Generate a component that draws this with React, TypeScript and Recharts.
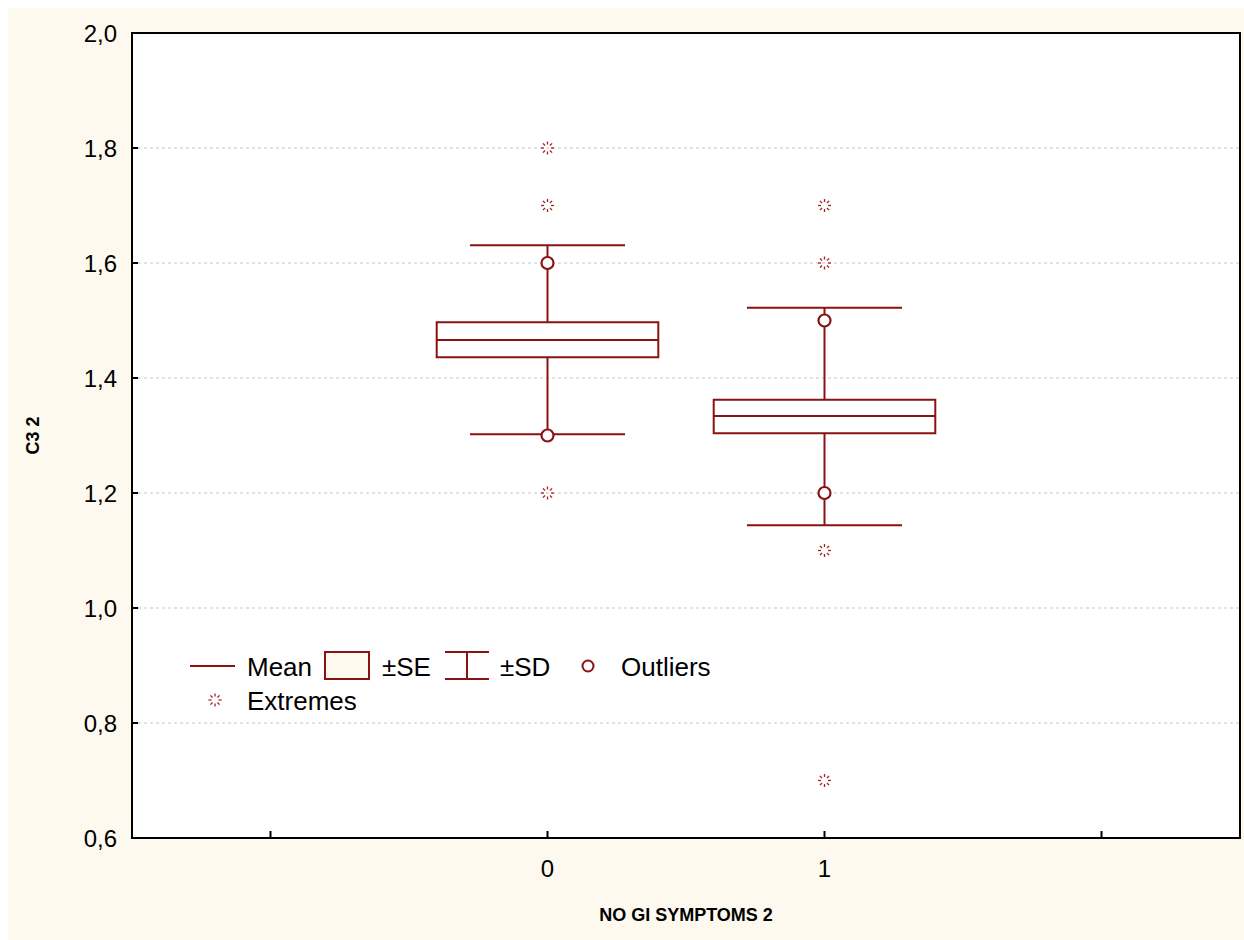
import {
  ScatterChart,
  Scatter,
  XAxis,
  YAxis,
  CartesianGrid,
  ReferenceArea,
  ReferenceLine,
  Label,
} from "recharts";

const RED = "#8b1212";
const CREAM = "#fef9ef";
const FONT = "'Liberation Sans', Arial, sans-serif";

// groups on the x axis (NO GI SYMPTOMS 2)
const groups = [0, 1];
const means = [1.466, 1.334];
const seLow = [1.436, 1.304];
const seHigh = [1.497, 1.362];
const sdLow = [1.302, 1.144];
const sdHigh = [1.631, 1.522];
const outliers = [
  [1.6, 1.3],
  [1.5, 1.2],
];
const extremes = [
  [1.8, 1.7, 1.2],
  [1.7, 1.6, 1.1, 0.7],
];

const xTicks = [-1, 0, 1, 2];
const xLabels = ["", "0", "1", ""];
const yTicks = [0.6, 0.8, 1.0, 1.2, 1.4, 1.6, 1.8, 2.0];

const BOX_HALF = 0.4;
const CAP_HALF = 0.28;

const outlierData = groups.flatMap((g, i) => outliers[i].map((y) => ({ x: g, y })));
const extremeData = groups.flatMap((g, i) => extremes[i].map((y) => ({ x: g, y })));

const fmt = (v: number) => v.toFixed(1).replace(".", ",");

function YTick({ x, y, payload }: any) {
  return (
    <g>
      <line x1={x} x2={x + 6} y1={y} y2={y} stroke="#000" strokeWidth={2} />
      <text
        x={x - 15}
        y={y}
        textAnchor="end"
        dominantBaseline="central"
        fontSize={24}
        fontFamily={FONT}
        fill="#000"
      >
        {fmt(payload.value)}
      </text>
    </g>
  );
}

function XTick({ x, y, payload }: any) {
  const idx = xTicks.indexOf(payload.value);
  return (
    <g>
      <line x1={x} x2={x} y1={y} y2={y - 7} stroke="#000" strokeWidth={2} />
      <text
        x={x}
        y={y + 30}
        textAnchor="middle"
        dominantBaseline="central"
        fontSize={24}
        fontFamily={FONT}
        fill="#000"
      >
        {idx >= 0 ? xLabels[idx] : ""}
      </text>
    </g>
  );
}

function OutlierDot({ cx, cy }: any) {
  if (cx == null || cy == null) return null;
  return <circle cx={cx} cy={cy} r={6} fill="#fff" stroke={RED} strokeWidth={2.2} />;
}

function Burst({ cx, cy }: any) {
  if (cx == null || cy == null) return null;
  const rays = [0, 45, 90, 135, 180, 225, 270, 315];
  return (
    <g>
      {rays.map((a) => {
        const r = (a * Math.PI) / 180;
        return (
          <line
            key={a}
            x1={cx + Math.cos(r) * 3.5}
            y1={cy + Math.sin(r) * 3.5}
            x2={cx + Math.cos(r) * 6.5}
            y2={cy + Math.sin(r) * 6.5}
            stroke="#a82020"
            strokeWidth={1.3}
          />
        );
      })}
    </g>
  );
}

function LegendBox() {
  const t = { fontSize: 26, fontFamily: FONT, fill: "#000", dominantBaseline: "central" as const };
  return (
    <svg
      width={580}
      height={80}
      style={{ position: "absolute", left: 170, top: 630, pointerEvents: "none" }}
    >
      <g transform="translate(-170,-630)">
        <line x1={182} x2={227} y1={658} y2={658} stroke={RED} strokeWidth={2} />
        <text x={239} y={659} {...t}>Mean</text>
        <rect x={317} y={644} width={44} height={27} fill={CREAM} stroke={RED} strokeWidth={2} />
        <text x={374} y={659} {...t}>±SE</text>
        <line x1={437} x2={481} y1={644} y2={644} stroke={RED} strokeWidth={2} />
        <line x1={437} x2={481} y1={671} y2={671} stroke={RED} strokeWidth={2} />
        <line x1={459} x2={459} y1={644} y2={671} stroke={RED} strokeWidth={2} />
        <text x={492} y={659} {...t}>±SD</text>
        <circle cx={580} cy={658} r={5.5} fill="#fff" stroke={RED} strokeWidth={2} />
        <text x={613} y={659} {...t}>Outliers</text>
        <Burst cx={207} cy={692} />
        <text x={239} y={693} {...t}>Extremes</text>
      </g>
    </svg>
  );
}

export default function App() {
  return (
    <div
      style={{
        position: "fixed",
        left: 8,
        top: 8,
        width: 1236,
        height: 932,
        background: CREAM,
        fontFamily: FONT,
      }}
    >
      <ScatterChart width={1236} height={932} margin={{ top: 25, right: 4, bottom: 0, left: 0 }}>
        <CartesianGrid
          vertical={false}
          horizontal
          stroke="#c4c4c4"
          strokeDasharray="3 3"
          fill="#fff"
          fillOpacity={1}
        />
        <XAxis
          type="number"
          dataKey="x"
          domain={[-1.5, 2.5]}
          ticks={xTicks}
          allowDataOverflow
          height={102}
          axisLine={false}
          tickLine={false}
          tickSize={0}
          tickMargin={0}
          tick={<XTick />}
          interval={0}
        >
          <Label
            value="NO GI SYMPTOMS 2"
            position="insideBottom"
            offset={19}
            style={{ fontSize: 18, fontWeight: "bold", fontFamily: FONT, fill: "#000" }}
          />
        </XAxis>
        <YAxis
          type="number"
          dataKey="y"
          domain={[0.6, 2.0]}
          ticks={yTicks}
          allowDataOverflow
          width={124}
          axisLine={false}
          tickLine={false}
          tickSize={0}
          tickMargin={0}
          tick={<YTick />}
          interval={0}
        >
          <Label
            value="C3 2"
            angle={-90}
            position="insideLeft"
            offset={25}
            style={{ fontSize: 18, fontWeight: "bold", fontFamily: FONT, fill: "#000", textAnchor: "middle" }}
          />
        </YAxis>

        {groups.map((g, i) => (
          <ReferenceArea
            key={`se${g}`}
            x1={g - BOX_HALF}
            x2={g + BOX_HALF}
            y1={seLow[i]}
            y2={seHigh[i]}
            fill="#fff"
            fillOpacity={1}
            stroke={RED}
            strokeWidth={2}
          />
        ))}
        {groups.map((g, i) => (
          <ReferenceLine
            key={`m${g}`}
            segment={[
              { x: g - BOX_HALF, y: means[i] },
              { x: g + BOX_HALF, y: means[i] },
            ]}
            stroke={RED}
            strokeWidth={2}
          />
        ))}
        {groups.map((g, i) => (
          <ReferenceLine
            key={`wu${g}`}
            segment={[
              { x: g, y: seHigh[i] },
              { x: g, y: sdHigh[i] },
            ]}
            stroke={RED}
            strokeWidth={2}
          />
        ))}
        {groups.map((g, i) => (
          <ReferenceLine
            key={`wl${g}`}
            segment={[
              { x: g, y: seLow[i] },
              { x: g, y: sdLow[i] },
            ]}
            stroke={RED}
            strokeWidth={2}
          />
        ))}
        {groups.map((g, i) => (
          <ReferenceLine
            key={`cu${g}`}
            segment={[
              { x: g - CAP_HALF, y: sdHigh[i] },
              { x: g + CAP_HALF, y: sdHigh[i] },
            ]}
            stroke={RED}
            strokeWidth={2}
          />
        ))}
        {groups.map((g, i) => (
          <ReferenceLine
            key={`cl${g}`}
            segment={[
              { x: g - CAP_HALF, y: sdLow[i] },
              { x: g + CAP_HALF, y: sdLow[i] },
            ]}
            stroke={RED}
            strokeWidth={2}
          />
        ))}
        <ReferenceArea
          x1={-1.5}
          x2={2.5}
          y1={0.6}
          y2={2.0}
          fill="none"
          stroke="#000"
          strokeWidth={2}
        />

        <Scatter data={extremeData} shape={<Burst />} isAnimationActive={false} />
        <Scatter data={outlierData} shape={<OutlierDot />} isAnimationActive={false} />
      </ScatterChart>
      <LegendBox />
    </div>
  );
}
